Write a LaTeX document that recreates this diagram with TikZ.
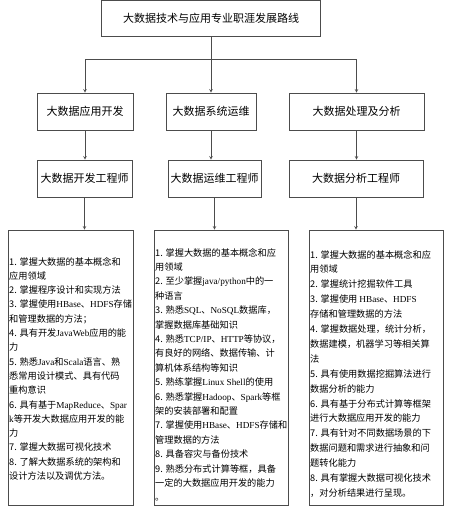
\documentclass[tikz,border=0pt]{standalone}
\usepackage{fontspec}
\newfontfamily\cjk{Noto Sans CJK SC}
\newfontfamily\lat{Liberation Serif}
\newcommand{\en}[1]{{\lat #1}}
\usepackage{tikz}
\lineskiplimit=-20pt

\begin{document}
\begin{tikzpicture}[x=1pt, y=1pt, >=stealth]
% --- Global Styles ---
\tikzstyle{box} = [draw=black!70, line width=0.7pt, inner sep=0pt]
\tikzstyle{title} = [font=\cjk\fontsize{11}{13}\selectfont]
\tikzstyle{items} = [anchor=north west, inner sep=0pt, align=left, font=\cjk\fontsize{9.2}{14.5}\selectfont]
\tikzstyle{link} = [->, draw=black!70, line width=0.6pt]
\tikzstyle{bar} = [draw=black!70, line width=0.6pt]

\useasboundingbox (0,0) rectangle (450,506);

% --- Row Y-coordinates ---
\def\yt{488}     % top title row
\def\ybar{447}   % branching bar
\def\yr{394.5}   % direction row
\def\yj{327.5}   % job title row
\def\yb{138.5}   % skill list row

% ==========================================
% TOP: Route title
% ==========================================
\node[box, title, minimum width=219pt, minimum height=36pt] (route) at (211,\yt) {大数据技术与应用专业职涯发展路线};
\coordinate (split) at (211,\ybar);

% ==========================================
% SECOND ROW: Directions
% ==========================================
\node[box, title, minimum width=96pt, minimum height=37pt] (dev) at (85,\yr) {大数据应用开发};
\node[box, title, minimum width=90pt, minimum height=37pt] (ops) at (211,\yr) {大数据系统运维};
\node[box, title, minimum width=135pt, minimum height=37pt] (ana) at (356.5,\yr) {大数据处理及分析};

\draw[bar] (route.south) -- (split);
\draw[link] (split) -| (dev.north);
\draw[link] (split) -- (ops.north);
\draw[link] (split) -| (ana.north);

% ==========================================
% THIRD ROW: Job titles
% ==========================================
\node[box, title, minimum width=95pt, minimum height=37pt] (deveng) at (84.5,\yj) {大数据开发工程师};
\node[box, title, minimum width=93pt, minimum height=37pt] (opseng) at (214.5,\yj) {大数据运维工程师};
\node[box, title, minimum width=134pt, minimum height=37pt] (anaeng) at (356,\yj) {大数据分析工程师};

\draw[link] (dev.south) -- (dev.south |- deveng.north);
\draw[link] (ops.south) -- (ops.south |- opseng.north);
\draw[link] (ana.south) -- (ana.south |- anaeng.north);

% ==========================================
% BOTTOM ROW: Skill lists
% ==========================================
\node[box, minimum width=125pt, minimum height=275pt] (devskill) at (70.5,\yb) {};
\node[box, minimum width=134pt, minimum height=275pt] (opsskill) at (221,\yb) {};
\node[box, minimum width=134pt, minimum height=275pt] (anaskill) at (376,\yb) {};

\draw[link] (deveng.south) -- (deveng.south |- devskill.north);
\draw[link] (opseng.south) -- (opseng.south |- opsskill.north);
\draw[link] (anaeng.south) -- (anaeng.south |- anaskill.north);

% Skill texts
\node[items, font=\cjk\fontsize{9.2}{14.3}\selectfont] (devtext) at (9,249) {1. 掌握大数据的基本概念和\\应用领域\\2. 掌握程序设计和实现方法\\3. 掌握使用\en{HBase}、\en{HDFS}存储\\和管理数据的方法；\\4. 具有开发\en{JavaWeb}应用的能\\力\\5. 熟悉\en{Java}和\en{Scala}语言、熟\\悉常用设计模式、具有代码\\重构意识\\6. 具有基于\en{MapReduce}、\en{Spar}\\\en{k}等开发大数据应用开发的能\\力\\7. 掌握大数据可视化技术\\8. 了解大数据系统的架构和\\设计方法以及调优方法。};
\node[items, font=\cjk\fontsize{9.2}{14.4}\selectfont] (opstext) at (155,258) {1. 掌握大数据的基本概念和应\\用领域\\2. 至少掌握\en{java/python}中的一\\种语言\\3. 熟悉\en{SQL}、\en{NoSQL}数据库，\\掌握数据库基础知识\\4. 熟悉\en{TCP/IP}、\en{HTTP}等协议，\\有良好的网络、数据传输、计\\算机体系结构等知识\\5. 熟练掌握\en{Linux Shell}的使用\\6. 熟悉掌握\en{Hadoop}、\en{Spark}等框\\架的安装部署和配置\\7. 掌握使用\en{HBase}、\en{HDFS}存储和\\管理数据的方法\\8. 具备容灾与备份技术\\9. 熟悉分布式计算等框，具备\\一定的大数据应用开发的能力\\。};
\node[items, font=\cjk\fontsize{9.2}{14.9}\selectfont] (anatext) at (310,256) {1. 掌握大数据的基本概念和应\\用领域\\2. 掌握统计挖掘软件工具\\3. 掌握使用 \en{HBase}、\en{HDFS}\\存储和管理数据的方法\\4. 掌握数据处理，统计分析，\\数据建模，机器学习等相关算\\法\\5. 具有使用数据挖掘算法进行\\数据分析的能力\\6. 具有基于分布式计算等框架\\进行大数据应用开发的能力\\7. 具有针对不同数据场景的下\\数据问题和需求进行抽象和问\\题转化能力\\8. 具有掌握大数据可视化技术\\，对分析结果进行呈现。};

\end{tikzpicture}
\end{document}
